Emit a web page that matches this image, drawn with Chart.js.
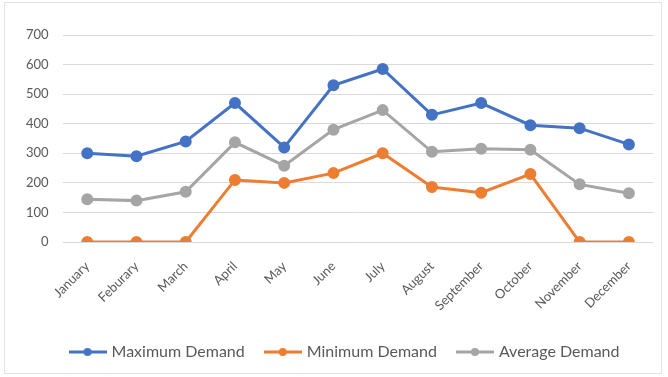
<!DOCTYPE html>
<html>
<head>
<meta charset="utf-8">
<script src="https://cdn.jsdelivr.net/npm/chart.js@4"></script>
<style>
  html, body { margin: 0; padding: 0; background: #fff; }
  #wrap { position: absolute; left: 4px; top: 2px; width: 658px; height: 372px; border: 1px solid #e3e3e3; box-sizing: border-box; }
</style>
</head>
<body>
<div id="wrap"><canvas id="chart"></canvas></div>
<script>
const months = ["January", "Feburary", "March", "April", "May", "June", "July", "August", "September", "October", "November", "December"];
const maxDemand = [300, 290, 340, 470, 320, 530, 585, 430, 470, 395, 385, 330];
const minDemand = [0, 0, 0, 210, 200, 233, 300, 186, 167, 230, 0, 0];
const avgDemand = [145, 140, 170, 337, 258, 380, 446, 305, 315, 312, 195, 165];

const BLUE = '#4472c4';
const ORANGE = '#ed7d31';
const GREY = '#a5a5a5';
const TEXT = '#595959';

// little line+dot marker for the legend, like Excel
function legendMark(color) {
  const c = document.createElement('canvas');
  c.width = 38; c.height = 10;
  const g = c.getContext('2d');
  g.strokeStyle = color;
  g.lineWidth = 3;
  g.beginPath(); g.moveTo(0, 5); g.lineTo(38, 5); g.stroke();
  g.fillStyle = color;
  g.beginPath(); g.arc(19, 5, 4, 0, Math.PI * 2); g.fill();
  return c;
}

function series(label, data, color) {
  return {
    label: label,
    data: data,
    borderColor: color,
    backgroundColor: color,
    borderWidth: 3,
    pointRadius: 4.5,
    pointBackgroundColor: color,
    pointBorderColor: color,
    tension: 0
  };
}

// nudge the legend a bit to the right, the way the original sits
const legendShift = {
  id: 'legendShift',
  afterLayout(chart) {
    chart.legend.left += 11;
    chart.legend.right += 11;
  }
};

const ctx = document.getElementById('chart').getContext('2d');
new Chart(ctx, {
  type: 'line',
  data: {
    labels: months,
    datasets: [
      series('Maximum Demand', maxDemand, BLUE),
      series('Minimum Demand', minDemand, ORANGE),
      series('Average Demand', avgDemand, GREY)
    ]
  },
  plugins: [legendShift],
  options: {
    responsive: true,
    maintainAspectRatio: false,
    animation: false,
    layout: { padding: { left: 7, right: 4, top: 32, bottom: 3 } },
    plugins: {
      legend: {
        position: 'bottom',
        labels: {
          color: TEXT,
          font: { family: 'Lato', size: 16 },
          usePointStyle: true,
          pointStyleWidth: 32,
          boxHeight: 10,
          padding: 22,
          generateLabels: (chart) => chart.data.datasets.map((ds, i) => ({
            text: ds.label,
            fontColor: TEXT,
            pointStyle: legendMark(ds.borderColor),
            datasetIndex: i,
            lineWidth: 0,
            strokeStyle: ds.borderColor,
            fillStyle: ds.borderColor
          }))
        }
      },
      tooltip: { enabled: false }
    },
    scales: {
      x: {
        offset: true,
        grid: { display: false },
        border: { display: false },
        ticks: {
          color: TEXT,
          font: { family: 'Lato', size: 13 },
          maxRotation: 45,
          minRotation: 45,
          padding: 8.5
        }
      },
      y: {
        min: 0,
        max: 700,
        grid: { color: '#d9d9d9', lineWidth: 1, drawTicks: false },
        border: { display: false },
        ticks: {
          stepSize: 100,
          color: TEXT,
          font: { family: 'Lato', size: 13 },
          padding: 14
        }
      }
    }
  }
});
</script>
</body>
</html>
